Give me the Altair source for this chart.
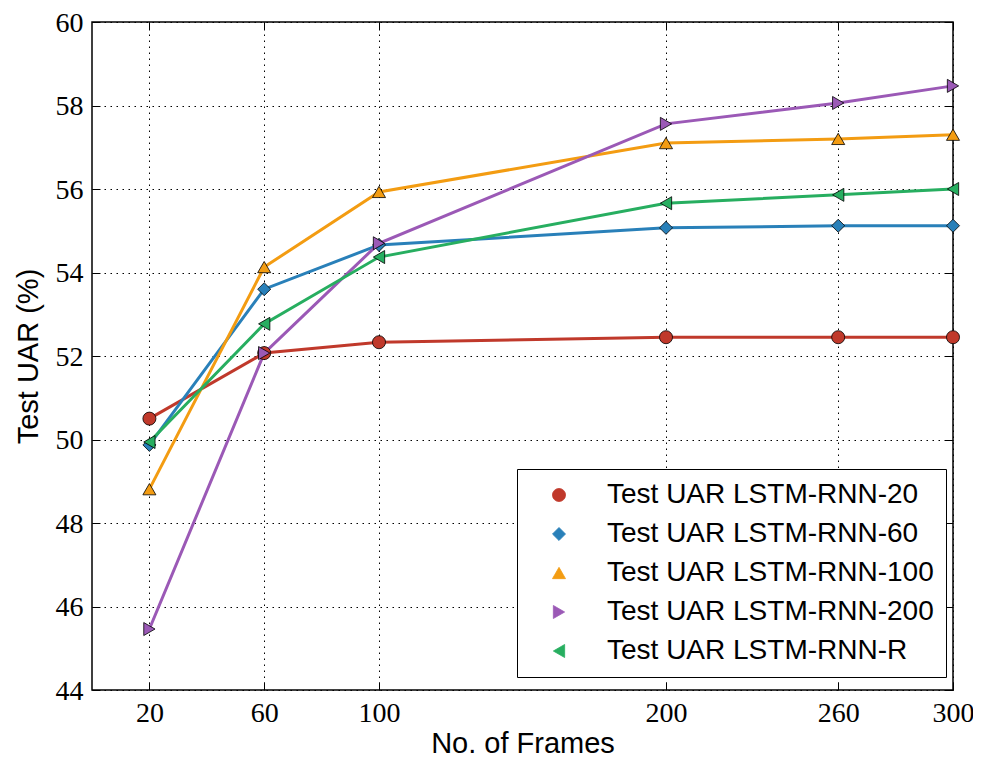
import altair as alt
import pandas as pd

frames = [20, 60, 100, 200, 260, 300]
uar_20 = [50.50, 52.07, 52.33, 52.45, 52.45, 52.45]
uar_60 = [49.87, 53.60, 54.66, 55.07, 55.12, 55.12]
uar_100 = [48.81, 54.13, 55.93, 57.10, 57.20, 57.30]
uar_200 = [45.46, 52.07, 54.70, 57.56, 58.06, 58.47]
uar_r = [49.94, 52.77, 54.37, 55.66, 55.86, 56.00]

series_names = [
    "Test UAR LSTM-RNN-20",
    "Test UAR LSTM-RNN-60",
    "Test UAR LSTM-RNN-100",
    "Test UAR LSTM-RNN-200",
    "Test UAR LSTM-RNN-R",
]
series_values = [uar_20, uar_60, uar_100, uar_200, uar_r]
series_colors = ["#C0392B", "#2980B9", "#F39C12", "#9B59B6", "#27AE60"]
series_shapes = ["circle", "diamond", "triangle-up", "triangle-right", "triangle-left"]

x_ticks = [20, 60, 100, 200, 260, 300]
y_ticks = [44, 46, 48, 50, 52, 54, 56, 58, 60]
x_domain = [0, 300]
y_domain = [44, 60]

rows = []
for name, vals in zip(series_names, series_values):
    for f, v in zip(frames, vals):
        rows.append({"frames": f, "uar": v, "series": name})
df = pd.DataFrame(rows)

TICK_FONT = "Liberation Serif"
TITLE_FONT = "Liberation Sans"

xs = alt.Scale(domain=x_domain, nice=False, zero=False)
ys = alt.Scale(domain=y_domain, nice=False, zero=False)

legend = alt.Legend(
    title=None,
    orient="none",
    legendX=425,
    legendY=447,
    fillColor="white",
    strokeColor="black",
    padding=12,
    labelFont=TITLE_FONT,
    labelFontSize=28,
    labelColor="black",
    labelLimit=0,
    labelOffset=34,
    symbolOffset=16,
    symbolSize=170,
    symbolStrokeColor="black",
    symbolStrokeWidth=0.8,
    symbolOpacity=1,
    rowPadding=11,
)

color = alt.Color(
    "series:N",
    scale=alt.Scale(domain=series_names, range=series_colors),
    sort=series_names,
    legend=legend,
)
shape = alt.Shape(
    "series:N",
    scale=alt.Scale(domain=series_names, range=series_shapes),
    sort=series_names,
    legend=legend,
)

# main axes: ticks pointing inward via negative offset
x_axis_main = alt.Axis(
    orient="bottom",
    values=x_ticks, grid=False, domain=False, offset=-8, tickSize=8,
    tickColor="black", tickWidth=1, labelFont=TICK_FONT, labelFontSize=28,
    labelColor="black", labelPadding=9, title="No. of Frames",
    titleFont=TITLE_FONT, titleFontSize=29, titleFontWeight="normal",
    titleColor="black", titlePadding=2, labelFlush=False, labelOverlap=False,
)
y_axis_main = alt.Axis(
    orient="left",
    values=y_ticks, grid=False, domain=False, offset=-8, tickSize=8,
    tickColor="black", tickWidth=1, labelFont=TICK_FONT, labelFontSize=28,
    labelColor="black", labelPadding=9, labelOffset=1, title="Test UAR (%)",
    titleFont=TITLE_FONT, titleFontSize=29, titleFontWeight="normal",
    titleColor="black", titlePadding=12, labelFlush=False, labelOverlap=False,
)

grid_x = alt.Axis(orient="bottom", values=x_ticks, grid=True, ticks=False, labels=False,
                  domain=False, title=None, gridColor="black", gridDash=[1.5, 4.5],
                  gridWidth=1, gridOpacity=1)
grid_y = alt.Axis(orient="left", values=y_ticks, grid=True, ticks=False, labels=False,
                  domain=False, title=None, gridColor="black", gridDash=[1.5, 4.5],
                  gridWidth=1, gridOpacity=1)

grid_layer = alt.Chart(df).mark_point(opacity=0).encode(
    x=alt.X("frames:Q", scale=xs, axis=grid_x),
    y=alt.Y("uar:Q", scale=ys, axis=grid_y),
)

series_layer = alt.Chart(df).mark_line(
    strokeWidth=3,
    point=alt.OverlayMarkDef(filled=True, size=170, stroke="black", strokeWidth=0.8, opacity=1),
).encode(
    x=alt.X("frames:Q", scale=xs, axis=x_axis_main),
    y=alt.Y("uar:Q", scale=ys, axis=y_axis_main),
    color=color,
    shape=shape,
)

top_axis = alt.Axis(orient="top", values=x_ticks, grid=False, domain=False, labels=False,
                    offset=-8, tickSize=8, tickColor="black", tickWidth=1, title=None)
right_axis = alt.Axis(orient="right", values=y_ticks, grid=False, domain=False, labels=False,
                      offset=-8, tickSize=8, tickColor="black", tickWidth=1, title=None)

frame_ticks = alt.Chart(df).mark_point(opacity=0).encode(
    x=alt.X("frames:Q", scale=xs, axis=top_axis),
    y=alt.Y("uar:Q", scale=ys, axis=right_axis),
)

chart = alt.layer(grid_layer, series_layer, frame_ticks).resolve_scale(
    x="independent", y="independent"
).properties(
    width=861,
    height=668,
    autosize=alt.AutoSizeParams(type="none"),
    padding={"left": 84, "top": 14, "right": 20, "bottom": 68},
    background="white",
).configure_view(
    stroke="black", strokeWidth=1.5
)

chart.save("out.html", embed_options={"renderer": "svg", "actions": False})
